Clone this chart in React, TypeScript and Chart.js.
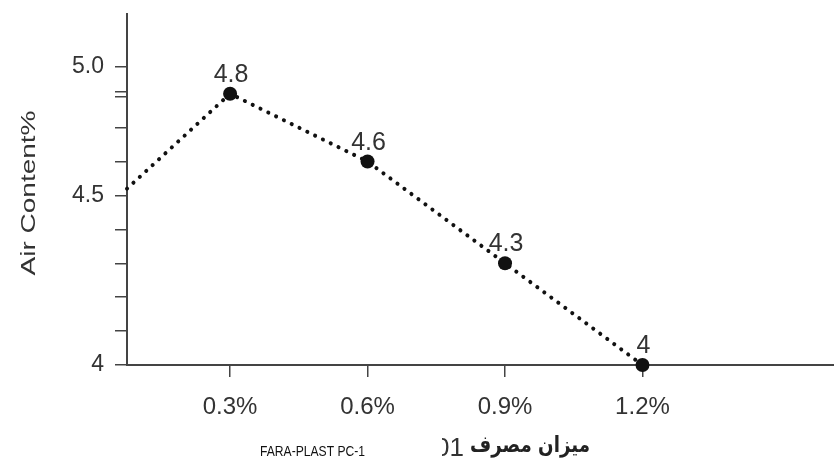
import { useEffect, useRef } from "react";
import { Chart, registerables } from "chart.js";

Chart.register(...registerables);

const dosage = [0.075, 0.3, 0.6, 0.9, 1.2];
const airContent = [4.52, 4.8, 4.6, 4.3, 4.0];
const pointLabels = ["", "4.8", "4.6", "4.3", "4"];
const xTickValues = [0.3, 0.6, 0.9, 1.2];
const xTickLabels = ["0.3%", "0.6%", "0.9%", "1.2%"];
const yTickValues = [4, 4.1, 4.2, 4.3, 4.4, 4.5, 4.6, 4.7, 4.79, 4.805, 4.88];
const yTickLabels = ["4", "", "", "", "", "4.5", "", "", "", "", "5.0"];
const yTitle = "Air Content%";
const xTitleLatin = "FARA-PLAST PC-1";
const xTitleNumber = "01";
const xTitlePersian = "میزان مصرف";

const SANS = "'Liberation Sans', Arial, sans-serif";

function fitText(
  ctx: CanvasRenderingContext2D,
  text: string,
  font: string,
  x: number,
  y: number,
  width: number,
  align: CanvasTextAlign,
  baseline: CanvasTextBaseline,
  color: string,
  rotate = 0
) {
  ctx.save();
  ctx.font = font;
  const w = ctx.measureText(text).width || 1;
  ctx.translate(x, y);
  if (rotate) ctx.rotate(rotate);
  ctx.scale(width / w, 1);
  ctx.textAlign = align;
  ctx.textBaseline = baseline;
  ctx.fillStyle = color;
  ctx.fillText(text, 0, 0);
  ctx.restore();
}

const annotations = {
  id: "annotations",
  afterDatasetsDraw(chart: any) {
    const ctx: CanvasRenderingContext2D = chart.ctx;
    const meta = chart.getDatasetMeta(0);
    ctx.save();
    ctx.font = `25px ${SANS}`;
    ctx.fillStyle = "#333";
    ctx.textAlign = "center";
    ctx.textBaseline = "alphabetic";
    meta.data.forEach((pt: any, i: number) => {
      const lbl = pointLabels[i];
      if (lbl) ctx.fillText(lbl, pt.x + 1, pt.y - 12);
    });
    ctx.restore();
  },
  afterDraw(chart: any) {
    const ctx: CanvasRenderingContext2D = chart.ctx;
    // y-axis title
    fitText(ctx, yTitle, `21px ${SANS}`, 29, 193, 165, "center", "middle", "#333", -Math.PI / 2);
    // x-axis title: number partly hidden by white label box
    ctx.save();
    ctx.font = `26px ${SANS}`;
    ctx.fillStyle = "#333";
    ctx.textAlign = "right";
    ctx.textBaseline = "alphabetic";
    ctx.fillText(xTitleNumber, 464, 456);
    ctx.restore();
    fitText(ctx, xTitlePersian, `bold 22px 'DejaVu Sans', sans-serif`, 470, 452, 120, "left", "alphabetic", "#222");
    ctx.save();
    ctx.fillStyle = "#fff";
    ctx.fillRect(200, 425, 242, 33);
    ctx.restore();
    fitText(ctx, xTitleLatin, `15px ${SANS}`, 260, 456, 105, "left", "alphabetic", "#111");
  },
};

export default function App() {
  const ref = useRef<HTMLCanvasElement | null>(null);

  useEffect(() => {
    if (!ref.current) return;
    const chart = new Chart(ref.current, {
      type: "line",
      data: {
        datasets: [
          {
            data: dosage.map((x, i) => ({ x, y: airContent[i] })),
            borderColor: "#111",
            borderWidth: 4,
            borderDash: [0.1, 8.6],
            borderCapStyle: "round",
            pointRadius: dosage.map((_, i) => (i === 0 ? 0 : 7)),
            pointBackgroundColor: "#111",
            pointBorderWidth: 0,
            tension: 0,
            clip: false as any,
          } as any,
        ],
      },
      options: {
        animation: false,
        responsive: false,
        devicePixelRatio: 1,
        layout: { autoPadding: false, padding: { left: 0, top: 14, right: 0, bottom: 0 } },
        plugins: { legend: { display: false }, tooltip: { enabled: false } },
        scales: {
          x: {
            type: "linear",
            min: 0.075,
            max: 1.618,
            afterBuildTicks: (s: any) => {
              s.ticks = xTickValues.map((v) => ({ value: v }));
            },
            afterFit: (s: any) => {
              s.height = 93;
              s.paddingLeft = 0;
              s.paddingRight = 0;
            },
            ticks: {
              callback: (_v: any, i: number) => xTickLabels[i],
              font: { family: SANS, size: 24 },
              color: "#333",
              padding: 16,
              maxRotation: 0,
              autoSkip: false,
            },
            grid: {
              drawOnChartArea: false,
              drawTicks: true,
              tickLength: 12,
              color: "#444",
              lineWidth: 1.5,
            },
            border: { display: true, color: "#444", width: 2 },
          },
          y: {
            type: "linear",
            min: 4,
            max: 5.035,
            afterBuildTicks: (s: any) => {
              s.ticks = yTickValues.map((v) => ({ value: v }));
            },
            afterFit: (s: any) => {
              s.width = 127;
              s.paddingTop = 0;
              s.paddingBottom = 0;
            },
            ticks: {
              callback: (_v: any, i: number) => yTickLabels[i],
              font: { family: SANS, size: 23 },
              color: "#333",
              padding: 11,
              autoSkip: false,
            },
            grid: {
              drawOnChartArea: false,
              drawTicks: true,
              tickLength: 12,
              color: "#444",
              lineWidth: 1.5,
            },
            border: { display: true, color: "#444", width: 2 },
          },
        },
      },
      plugins: [annotations],
    });
    return () => chart.destroy();
  }, []);

  return (
    <div style={{ position: "absolute", left: 0, top: 0, width: 834, height: 458, background: "#fff" }}>
      <canvas ref={ref} width={834} height={458} style={{ display: "block" }} />
    </div>
  );
}
